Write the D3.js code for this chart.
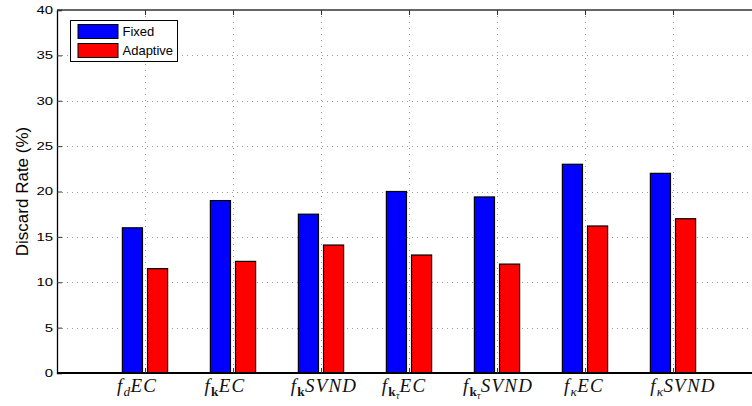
<!DOCTYPE html>
<html>
<head>
<meta charset="utf-8">
<script src="https://cdn.jsdelivr.net/npm/d3@7"></script>
<style>
  html, body { margin: 0; padding: 0; background: #fff; }
  svg { display: block; }
  text { font-family: "Liberation Sans", Arial, sans-serif; }
</style>
</head>
<body>
<svg id="chart" width="752" height="406"></svg>
<script>
// Discard rate per feature/test combination, fixed vs adaptive thresholds
const seriesNames = ["Fixed", "Adaptive"];
const fixedRate = [16.0, 19.0, 17.5, 20.0, 19.4, 23.0, 22.0];
const adaptiveRate = [11.5, 12.3, 14.1, 13.0, 12.0, 16.2, 17.0];
const yTicks = [0, 5, 10, 15, 20, 25, 30, 35, 40];
// Category labels as runs of [text, style]: i = italic, s = subscript,
// b = bold subscript, ss = second-level subscript
const categoryLabels = [
  [["f", "i"], ["d", "s"], ["EC", "i"]],
  [["f", "i"], ["k", "b"], ["EC", "i"]],
  [["f", "i"], ["k", "b"], ["SVND", "i"]],
  [["f", "i"], ["k", "b"], ["τ", "ss"], ["EC", "i"]],
  [["f", "i"], ["k", "b"], ["τ", "ss"], ["SVND", "i"]],
  [["f", "i"], ["κ", "s"], ["EC", "i"]],
  [["f", "i"], ["κ", "s"], ["SVND", "i"]]
];
const labelNudge = [-8, -8, 3, -5, 1, -1, 10];

const colors = ["#0000ff", "#ff0000"];
const svg = d3.select("#chart");

const x = d3.scaleLinear().domain([0, 8]).range([57, 761]);
const y = d3.scaleLinear().domain([0, 40]).range([373, 10]);

const series = [fixedRate, adaptiveRate];
const groupWidth = Math.min(0.8, 2 / (2 + 1.5));
const barW = groupWidth / 2 * 0.8;
const offsets = [-groupWidth / 4, groupWidth / 4];

// dotted grid
const grid = svg.append("g").attr("stroke", "#9a9a9a").attr("stroke-width", 1)
  .attr("shape-rendering", "crispEdges");
grid.selectAll("line.h").data(yTicks.slice(1, -1)).join("line")
  .attr("stroke-dasharray", "1,4")
  .attr("x1", x(0)).attr("x2", x(8))
  .attr("y1", d => Math.round(y(d)) + 0.5).attr("y2", d => Math.round(y(d)) + 0.5);
grid.selectAll("line.v").data(d3.range(1, 8)).join("line")
  .attr("stroke-dasharray", "1,5")
  .attr("x1", d => Math.round(x(d)) + 0.5).attr("x2", d => Math.round(x(d)) + 0.5)
  .attr("y1", y(40)).attr("y2", y(0));

// bars
series.forEach((vals, si) => {
  svg.append("g").selectAll("rect").data(vals).join("rect")
    .attr("x", (d, i) => x(i + 1 + offsets[si] - barW / 2))
    .attr("width", x(barW) - x(0))
    .attr("y", d => y(d))
    .attr("height", d => y(0) - y(d))
    .attr("fill", colors[si])
    .attr("stroke", "#000")
    .attr("stroke-width", 1.2);
});

// axes box: left, bottom, top; ticks pointing inward
const axG = svg.append("g");
axG.append("g").attr("transform", `translate(${x(0)},0)`)
  .call(d3.axisRight(y).tickValues(yTicks).tickSize(5).tickFormat(""))
  .call(g => g.select(".domain").attr("stroke-width", 1.3));
axG.append("g").attr("transform", `translate(0,${y(0)})`)
  .call(d3.axisTop(x).tickValues(d3.range(1, 8)).tickSize(5).tickFormat(""))
  .call(g => g.select(".domain").attr("stroke-width", 2).attr("d", `M${x(0)},0H${x(8)}`));
axG.append("g").attr("transform", `translate(0,${y(40)})`)
  .call(d3.axisBottom(x).tickValues(d3.range(1, 8)).tickSize(5).tickFormat(""))
  .call(g => g.select(".domain").attr("stroke", "#333").attr("stroke-width", 1.5).attr("d", `M${x(0)},0H${x(8)}`));
axG.selectAll(".tick line").attr("stroke", "#333");

// y tick labels
svg.append("g").selectAll("text").data(yTicks).join("text")
  .attr("transform", d => `translate(53,${y(d)}) scale(1.3,1)`)
  .attr("text-anchor", "end")
  .attr("dominant-baseline", "central")
  .attr("font-size", 11.5)
  .attr("fill", "#000")
  .text(d => d);

// y axis title
svg.append("text")
  .attr("transform", `translate(22,${y(20)}) rotate(-90)`)
  .attr("text-anchor", "middle")
  .attr("dominant-baseline", "central")
  .attr("font-size", 17)
  .text("Discard Rate (%)");

// category labels in math style
const base = 19;
const fam = "'Liberation Serif', 'DejaVu Serif', serif";
const styleOf = {
  i:  { size: base,        shift: 0,           italic: true,  bold: false },
  s:  { size: base * 0.7,  shift: base * 0.2,  italic: true,  bold: false },
  b:  { size: base * 0.7,  shift: base * 0.2,  italic: false, bold: true  },
  ss: { size: base * 0.5,  shift: base * 0.38, italic: true,  bold: false }
};
const xl = svg.append("g");
categoryLabels.forEach((runs, i) => {
  const t = xl.append("text")
    .attr("x", x(i + 1) + labelNudge[i])
    .attr("y", 392)
    .attr("text-anchor", "middle")
    .attr("fill", "#111");
  let cur = 0;
  runs.forEach(([txt, st]) => {
    const s = styleOf[st];
    t.append("tspan")
      .attr("dy", s.shift - cur)
      .attr("font-family", fam)
      .attr("font-size", s.size)
      .attr("font-style", s.italic ? "italic" : "normal")
      .attr("font-weight", s.bold ? "bold" : "normal")
      .attr("letter-spacing", st === "i" ? 1.2 : 0.3)
      .text(txt);
    cur = s.shift;
  });
});

// legend
const lg = svg.append("g");
lg.append("rect").attr("x", 70.5).attr("y", 20.5).attr("width", 107).attr("height", 41)
  .attr("fill", "#fff").attr("stroke", "#000").attr("stroke-width", 1);
seriesNames.forEach((name, i) => {
  lg.append("rect").attr("x", 78).attr("y", 24.5 + i * 19).attr("width", 40).attr("height", 14)
    .attr("fill", colors[i]).attr("stroke", "#000").attr("stroke-width", 1);
  lg.append("text").attr("x", 122.5).attr("y", 31.7 + i * 19)
    .attr("dominant-baseline", "central").attr("font-size", 13).text(name);
});
</script>
</body>
</html>
